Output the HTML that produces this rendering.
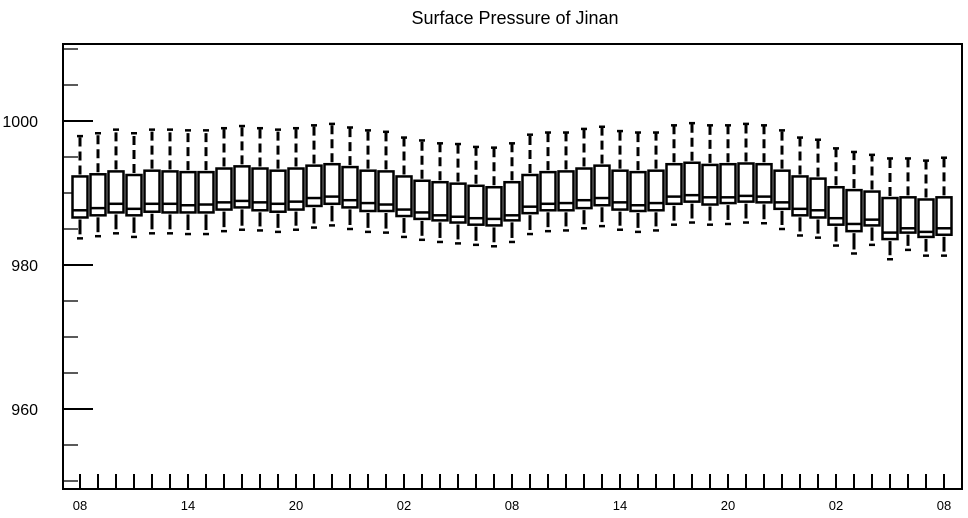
<!DOCTYPE html>
<html><head><meta charset="utf-8"><style>
html,body{margin:0;padding:0;background:#fff;}
svg{display:block;font-family:"Liberation Sans",sans-serif;}
</style></head><body>
<svg id="chart" width="968" height="518" viewBox="0 0 968 518">
<text x="515" y="24" font-size="18" text-anchor="middle">Surface Pressure of Jinan</text>
<g id="plot"></g>
</svg>
<script>
const xLabels = ["08","14","20","02","08","14","20","02","08"];
const yTicks = [960, 980, 1000];
const whiskerHigh = [997.9,998.3,998.8,998.3,998.8,998.8,998.7,998.7,999.0,999.3,999.0,998.8,999.0,999.4,999.6,999.1,998.7,998.5,997.7,997.3,996.9,996.8,996.4,996.3,996.9,998.1,998.4,998.4,998.9,999.2,998.6,998.4,998.4,999.4,999.7,999.4,999.4,999.6,999.4,998.7,997.7,997.4,996.2,995.7,995.3,994.8,994.8,994.5,994.9];
const q3 = [992.3,992.6,993.0,992.5,993.1,993.0,992.9,992.9,993.4,993.7,993.4,993.1,993.4,993.8,994.0,993.6,993.1,993.0,992.3,991.7,991.5,991.3,991.0,990.8,991.5,992.5,992.9,993.0,993.4,993.8,993.1,992.9,993.1,994.0,994.2,993.9,994.0,994.1,994.0,993.1,992.3,992.0,990.8,990.4,990.2,989.3,989.4,989.1,989.4];
const medians = [987.6,987.9,988.5,987.8,988.5,988.5,988.3,988.4,988.7,988.9,988.7,988.5,988.8,989.3,989.5,989.0,988.6,988.4,987.7,987.3,986.9,986.7,986.5,986.4,986.9,988.1,988.5,988.6,989.0,989.3,988.7,988.3,988.6,989.5,989.7,989.4,989.4,989.6,989.5,988.7,987.8,987.6,986.5,985.7,986.3,984.5,985.1,984.6,985.1];
const q1 = [986.6,986.9,987.3,986.9,987.4,987.3,987.3,987.3,987.7,988.0,987.6,987.4,987.7,988.2,988.5,988.0,987.5,987.5,986.8,986.4,986.2,985.9,985.6,985.5,986.2,987.2,987.6,987.6,987.9,988.3,987.7,987.5,987.6,988.5,988.8,988.4,988.6,988.8,988.7,987.8,986.9,986.6,985.6,984.7,985.5,983.6,984.5,983.9,984.2];
const whiskerLow = [983.7,984.0,984.4,983.9,984.4,984.4,984.3,984.3,984.7,984.9,984.8,984.6,984.9,985.2,985.5,985.0,984.6,984.5,983.9,983.5,983.2,983.0,982.8,982.6,983.2,984.3,984.7,984.8,985.1,985.4,984.9,984.6,984.8,985.6,985.9,985.6,985.7,985.9,985.8,985.0,984.1,983.8,982.7,981.6,982.8,980.8,982.1,981.3,981.3];

const NS = "http://www.w3.org/2000/svg";
const plot = document.getElementById("plot");
const L = 63, R = 962, T = 44, B = 489;
const yScale = v => 121 + (1000 - v) * 7.2;
const xScale = i => 80 + i * 18;
function mk(tag, attrs, parent) {
  const e = document.createElementNS(NS, tag);
  for (const k in attrs) e.setAttribute(k, attrs[k]);
  (parent || plot).appendChild(e);
  return e;
}
let e;
e = mk("rect", {x: L, y: T, width: R - L, height: B - T, fill: "none", stroke: "#000", "stroke-width": 2});


// y minor ticks
for (let v = 950; v <= 1010; v += 5) {
  const y = yScale(v);
  if (y < T || y > B) continue;
  const major = yTicks.includes(v);
  e = mk("line", {x1: L, x2: L + (major ? 30 : 15), y1: y, y2: y, stroke: "#000", "stroke-width": major ? 2 : 1.3});
  
  
}
yTicks.forEach(v => {
  e = mk("text", {x: 38, y: yScale(v) + 6, "font-size": 16, "text-anchor": "end"});
  e.textContent = v;
  
  
});
// x ticks
for (let i = 0; i < medians.length; i++) {
  const x = xScale(i);
  e = mk("line", {x1: x, x2: x, y1: B, y2: B - 15, stroke: "#000", "stroke-width": 2});
  
  
}
xLabels.forEach((lab, j) => {
  e = mk("text", {x: xScale(j * 6), y: 510, "font-size": 13, "text-anchor": "middle"});
  e.textContent = lab;
  
  
});
// boxes
for (let i = 0; i < medians.length; i++) {
  const x = xScale(i);
  const g = mk("g", {});
  
  
  const yH = yScale(whiskerHigh[i]), y3 = yScale(q3[i]), ym = yScale(medians[i]), y1 = yScale(q1[i]), yL = yScale(whiskerLow[i]);
  mk("line", {x1: x, x2: x, y1: y3 - 2, y2: yH, stroke: "#000", "stroke-width": 3, "stroke-dasharray": "9,5"}, g);
  mk("line", {x1: x - 3, x2: x + 3, y1: yH, y2: yH, stroke: "#000", "stroke-width": 2.5}, g);
  mk("line", {x1: x, x2: x, y1: y1 + 2, y2: yL - 4, stroke: "#000", "stroke-width": 3}, g);
  mk("line", {x1: x - 3, x2: x + 3, y1: yL, y2: yL, stroke: "#000", "stroke-width": 2.5}, g);
  mk("rect", {x: x - 7.5, y: y3, width: 15, height: y1 - y3, fill: "#fff", stroke: "#000", "stroke-width": 2.5}, g);
  mk("line", {x1: x - 7.5, x2: x + 7.5, y1: ym, y2: ym, stroke: "#000", "stroke-width": 2.5}, g);
}
</script>
</body></html>
